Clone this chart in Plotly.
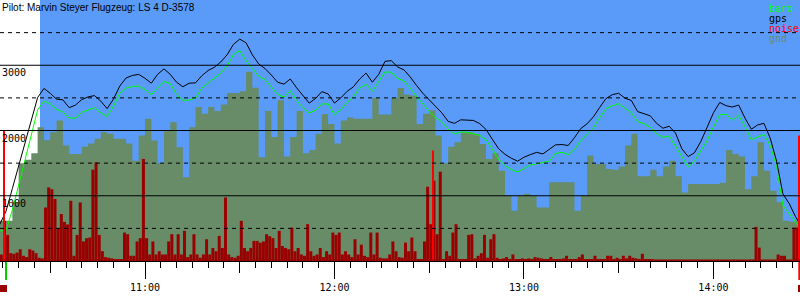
import pandas as pd
import plotly.graph_objects as go

DAY = "2024-06-01 "
# ---------------- data ----------------
grid_start = DAY + "10:14:00"          # 2-minute samples for baro / gps / gnd
baro = [461, 470, 782, 1164, 1552, 1934, 2315, 2450, 2410, 2325,
        2282, 2190, 2190, 2280, 2320, 2350, 2270, 2215, 2370, 2570,
        2650, 2675, 2680, 2630, 2550, 2650, 2750, 2718, 2550, 2465,
        2465, 2500, 2650, 2730, 2805, 2880, 2990, 3160, 3225, 3070,
        2950, 2830, 2780, 2660, 2555, 2510, 2610, 2460, 2350, 2270,
        2310, 2405, 2410, 2240, 2320, 2430, 2520, 2650, 2710, 2600,
        2760, 2900, 2890, 2800, 2760, 2650, 2520, 2400, 2290, 2200,
        2130, 2020, 1950, 1974, 1974, 1950, 1925, 1860, 1718, 1560,
        1460, 1400, 1365, 1420, 1470, 1490, 1510, 1530, 1645, 1667,
        1630, 1710, 1845, 1949, 2040, 2200, 2335, 2380, 2410, 2340,
        2275, 2135, 2105, 2050, 1950, 1897, 1915, 1760, 1600, 1440,
        1530, 1690, 1846, 2051, 2240, 2250, 2160, 2230, 2060, 1860,
        1905, 1940, 1770, 1450, 850, 720, 600, 480]
gps = [560, 765, 1110, 1460, 1810, 2160, 2505, 2645, 2570, 2480,
       2470, 2350, 2390, 2475, 2515, 2535, 2450, 2335, 2480, 2680,
       2805, 2843, 2860, 2800, 2725, 2860, 2945, 2860, 2740, 2670,
       2725, 2730, 2840, 2920, 2970, 3050, 3160, 3320, 3400, 3345,
       3160, 3020, 2950, 2850, 2740, 2710, 2790, 2655, 2530, 2420,
       2490, 2595, 2560, 2420, 2500, 2600, 2670, 2790, 2880, 2740,
       2860, 3060, 3070, 2974, 2930, 2820, 2690, 2570, 2470, 2375,
       2270, 2140, 2110, 2164, 2154, 2154, 2105, 2015, 1865, 1720,
       1635, 1575, 1530, 1590, 1630, 1665, 1641, 1710, 1780, 1785,
       1770, 1890, 2030, 2103, 2210, 2355, 2490, 2550, 2570, 2495,
       2460, 2290, 2260, 2225, 2110, 2035, 2065, 1960, 1720, 1600,
       1660, 1830, 2050, 2270, 2430, 2380, 2360, 2390, 2190, 2020,
       2085, 2110, 1880, 1530, 1030, 880, 680, 520]
gnd = [615, 615, 900, 1500, 1550, 1650, 2050, 1850, 1974, 2154,
       1769, 1641, 1641, 1750, 1800, 1872, 1974, 1949, 1872, 1872,
       1800, 1538, 1923, 2180, 1846, 1500, 2000, 2128, 1744, 1282,
       2051, 2359, 2256, 2359, 2300, 2400, 2574, 2574, 2600, 2900,
       2656, 1590, 2300, 1900, 2462, 1600, 1900, 2300, 1650, 1700,
       1950, 2250, 2100, 1800, 2154, 2200, 2179, 2179, 2179, 2500,
       2246, 2246, 2500, 2650, 2550, 2538, 2100, 2256, 2308, 1923,
       1500, 1750, 1820, 1974, 1974, 1950, 1795, 1564, 1650, 1385,
       1000, 769, 1000, 1030, 1000, 820, 820, 1205, 1205, 1205,
       1205, 769, 1000, 1615, 1487, 1487, 1410, 1400, 1450, 1769,
       1950, 1300, 1300, 1400, 1300, 1450, 1538, 1300, 1050, 1179,
       1179, 1179, 1179, 1179, 1200, 1700, 1641, 1600, 1100, 1300,
       1820, 1385, 1077, 900, 615, 600, 620, 600]

# 1-minute samples for noise (ENL, drawn on altitude scale)
noise = [100, 615, 400, 120, 110, 130, 180, 80, 60, 180,
         160, 120, 50, 40, 820, 1128, 1100, 950, 500, 720,
         600, 560, 923, 80, 400, 897, 300, 350, 359, 1400,
         1513, 400, 150, 60, 50, 40, 30, 30, 30, 436,
         410, 80, 80, 300, 350, 1564, 350, 100, 300, 100,
         150, 100, 100, 300, 410, 100, 410, 100, 462, 60,
         100, 410, 100, 50, 100, 333, 100, 200, 150, 385,
         200, 974, 100, 60, 50, 80, 615, 200, 150, 200,
         308, 308, 280, 300, 410, 380, 350, 200, 462, 230,
         200, 180, 513, 150, 200, 100, 80, 564, 150, 80,
         100, 200, 60, 150, 100, 436, 400, 436, 100, 150,
         100, 60, 333, 100, 250, 80, 60, 436, 100, 436,
         50, 40, 40, 100, 300, 150, 60, 50, 282, 150,
         359, 150, 30, 30, 300, 1138, 564, 1231, 410, 1369,
         30, 150, 80, 436, 564, 30, 30, 30, 400, 410,
         40, 80, 120, 400, 50, 333, 410, 50, 30, 40,
         60, 30, 100, 30, 20, 40, 20, 40, 20, 60,
         50, 40, 30, 20, 60, 20, 20, 20, 40, 80,
         20, 20, 20, 60, 100, 20, 20, 20, 80, 20,
         20, 20, 80, 80, 20, 50, 20, 80, 40, 80,
         50, 40, 20, 110, 20, 30, 30, 15, 15, 15,
         15, 15, 15, 15, 15, 15, 15, 15, 15, 15,
         15, 15, 15, 15, 15, 15, 15, 15, 15, 15,
         15, 15, 15, 15, 15, 15, 15, 15, 15, 523,
         205, 15, 15, 15, 15, 15, 100, 80, 80, 15,
         15, 513, 513, 615, 615]

# noise peaks flagged in bright red
peak_times = [DAY + "10:15:20", DAY + "12:31:10", DAY + "14:27:10"]
peak_vals = [2000, 1692, 1923]

view_start = DAY + "10:14:05"
view_end = DAY + "14:27:25"
release_time = DAY + "10:26:45"
takeoff_time = DAY + "10:16:00"
landing_time = DAY + "14:27:12"

solid_levels = [1000, 2000, 3000]
dashed_levels = [500, 1500, 2500, 3500]
y_tick_labels = ["1000", "2000", "3000"]
title_text = "Pilot: Marvin Steyer Flugzeug: LS 4 D-3578"
legend_items = [("baro", "#00ff00"), ("gps", "#000000"),
                ("noise", "#ff0000"), ("gnd", "#678c67")]

# --------------- figure ---------------
t2 = pd.date_range(grid_start, periods=len(baro), freq="2min")
t1 = pd.date_range(grid_start, periods=len(noise), freq="1min") + pd.Timedelta(seconds=30)

BLUE = "#5a9bfa"
GND = "#678c67"
DARKRED = "#990000"
MONO = "DejaVu Sans Mono"

fig = go.Figure()
fig.add_trace(go.Scatter(x=t2, y=gnd, mode="lines", fill="tozeroy",
                         fillcolor=GND, line=dict(width=0, shape="hv", color=GND),
                         hoverinfo="skip"))
fig.add_trace(go.Scatter(x=t2, y=baro, mode="lines",
                         line=dict(width=1, color="#00ff00")))
fig.add_trace(go.Scatter(x=t2, y=gps, mode="lines",
                         line=dict(width=1, color="#000000")))
# bars live on the overlaying axis so they are drawn above the ground area
fig.add_trace(go.Bar(x=t1, y=noise, width=57000, xaxis="x2",
                     marker=dict(color=DARKRED, line=dict(width=0)),
                     hoverinfo="skip"))
fig.add_trace(go.Bar(x=pd.to_datetime(peak_times), y=peak_vals, width=25000,
                     marker=dict(color="#ff0000", line=dict(width=0)),
                     xaxis="x2"))

shapes = [dict(type="rect", xref="x", yref="paper", x0=release_time, x1=view_end,
               y0=0, y1=1, fillcolor=BLUE, line=dict(width=0), layer="below")]
for v in solid_levels:
    shapes.append(dict(type="line", xref="paper", yref="y", x0=0, x1=1, y0=v, y1=v,
                       line=dict(color="black", width=1), layer="above"))
for v in dashed_levels:
    shapes.append(dict(type="line", xref="paper", yref="y", x0=0, x1=1, y0=v, y1=v,
                       line=dict(color="black", width=1, dash="4px,4px"), layer="above"))
H = 261.0
shapes.append(dict(type="line", xref="paper", yref="paper", x0=0, x1=1, y0=1 / H, y1=1 / H,
                   line=dict(color=DARKRED, width=1), layer="above"))
shapes.append(dict(type="line", xref="x", yref="paper", x0=takeoff_time, x1=takeoff_time,
                   y0=-1 / H, y1=-19 / H, line=dict(color="#00cc00", width=2)))
shapes.append(dict(type="line", xref="x", yref="paper", x0=landing_time, x1=landing_time,
                   y0=-1 / H, y1=-19 / H, line=dict(color="#ff0000", width=2)))
shapes.append(dict(type="rect", xref="paper", yref="paper", x0=0, x1=7 / 800,
                   y0=-24 / H, y1=-31 / H, fillcolor=DARKRED, line=dict(width=0)))
shapes.append(dict(type="rect", xref="paper", yref="paper", x0=798 / 800, x1=1,
                   y0=-24 / H, y1=-31 / H, fillcolor=DARKRED, line=dict(width=0)))

annotations = [dict(text=title_text, x=0, y=1, xref="paper", yref="paper",
                    xanchor="left", yanchor="top", showarrow=False,
                    font=dict(family="Liberation Sans", size=10, color="black"))]
for v, lab in zip(solid_levels, y_tick_labels):
    annotations.append(dict(text=lab, x=0, y=v, xref="paper", yref="y",
                            xanchor="left", yanchor="top", showarrow=False, yshift=0,
                            font=dict(family=MONO, size=10, color="black")))
for i, (name, col) in enumerate(legend_items):
    annotations.append(dict(text=name, x=768 / 800, y=1 - (2 + 10 * i) / H,
                            xref="paper", yref="paper", xanchor="left", yanchor="top",
                            showarrow=False, borderpad=0,
                            font=dict(family=MONO, size=10, color=col)))

fig.update_layout(
    width=800, height=300,
    margin=dict(l=0, r=0, t=0, b=39),
    paper_bgcolor="white", plot_bgcolor="white",
    showlegend=False, barmode="overlay",
    shapes=shapes, annotations=annotations,
    xaxis=dict(type="date", range=[view_start, view_end],
               tick0=DAY + "11:00", dtick=3600000, tickformat="%H:%M",
               ticks="outside", ticklen=17, tickwidth=1, tickcolor="black",
               minor=dict(dtick=300000, tick0=DAY + "11:00", ticks="outside",
                          ticklen=6, tickwidth=1, tickcolor="black", showgrid=False),
               showgrid=False, zeroline=False, showline=True, linecolor="black",
               linewidth=1, tickfont=dict(family=MONO, size=10, color="black"),
               fixedrange=True),
    xaxis2=dict(type="date", range=[view_start, view_end], overlaying="x", anchor="y",
                side="bottom", tick0=DAY + "10:30", dtick=1800000,
                ticks="outside", ticklen=11, tickwidth=1, tickcolor="black",
                showticklabels=False, showgrid=False, zeroline=False, showline=False,
                fixedrange=True),
    yaxis=dict(range=[0, 4000], showgrid=False, showticklabels=False, zeroline=False,
               showline=False, ticks="", fixedrange=True),
)

fig.write_html("out.html")
